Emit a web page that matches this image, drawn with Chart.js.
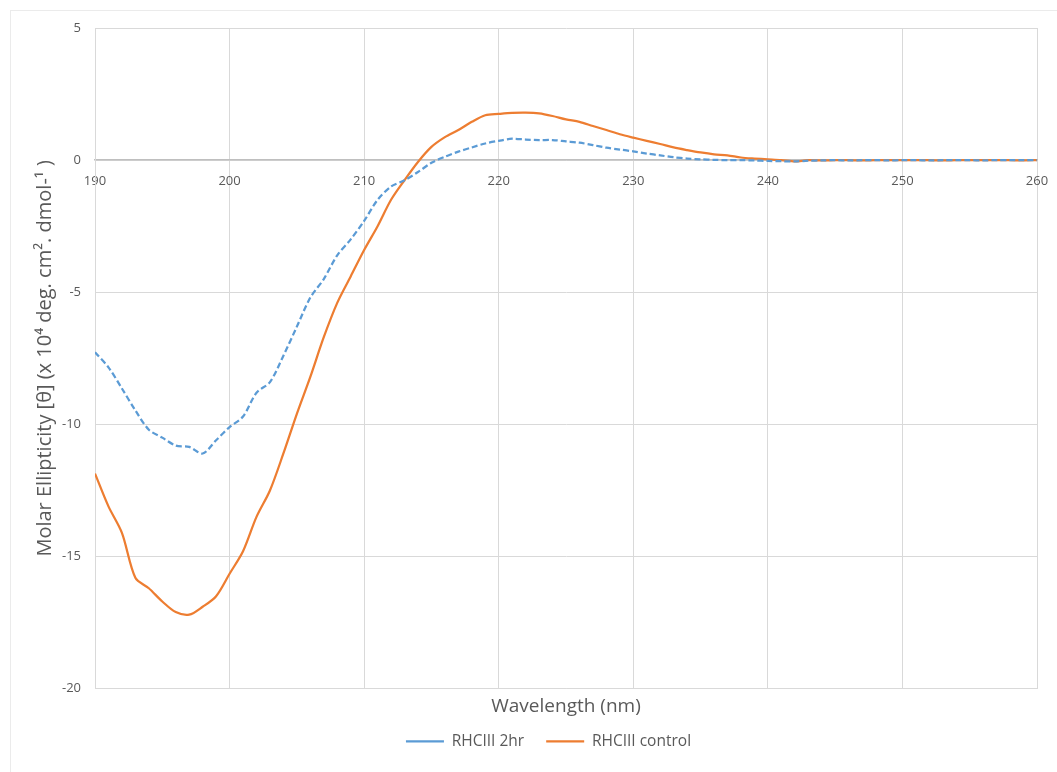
<!DOCTYPE html>
<html>
<head>
<meta charset="utf-8">
<script src="https://cdn.jsdelivr.net/npm/chart.js@4/dist/chart.umd.min.js"></script>
<style>
  html, body { margin: 0; padding: 0; background: #fff; }
  #wrap { position: relative; width: 1057px; height: 772px; overflow: hidden; }
  #frame { position: absolute; left: 10px; top: 10px; width: 1100px; height: 800px; border: 1px solid #ebebeb; box-sizing: border-box; }
  canvas { position: absolute; left: 0; top: 0; }
</style>
</head>
<body>
<div id="wrap">
  <div id="frame"></div>
  <canvas id="cd" width="1057" height="772"></canvas>
</div>
<script>
// wavelength in nm, 1 nm steps
const wavelengths = [
  190, 191, 192, 193, 194, 195, 196, 197, 198, 199,
  200, 201, 202, 203, 204, 205, 206, 207, 208, 209,
  210, 211, 212, 213, 214, 215, 216, 217, 218, 219,
  220, 221, 222, 223, 224, 225, 226, 227, 228, 229,
  230, 231, 232, 233, 234, 235, 236, 237, 238, 239,
  240, 241, 242, 243, 244, 245, 246, 247, 248, 249,
  250, 251, 252, 253, 254, 255, 256, 257, 258, 259, 260
];

// molar ellipticity (x 10^4 deg cm2 dmol-1)
const rhc2hr = [
  -7.27, -7.84, -8.64, -9.47, -10.2, -10.5, -10.8, -10.85, -11.1, -10.6,
  -10.1, -9.7, -8.8, -8.4, -7.4, -6.3, -5.2, -4.5, -3.6, -3.0,
  -2.3, -1.5, -1.0, -0.76, -0.45, -0.1, 0.13, 0.32, 0.48, 0.63,
  0.73, 0.81, 0.78, 0.76, 0.76, 0.71, 0.66, 0.57, 0.47, 0.40,
  0.33, 0.25, 0.18, 0.11, 0.06, 0.03, 0.01, 0.0, 0.0, -0.01,
  -0.03, -0.04, -0.05, -0.02, -0.01, 0.0, -0.01, 0.0, 0.0, -0.01,
  0.0, 0.0, -0.01, 0.0, 0.0, 0.0, -0.01, 0.0, 0.0, 0.0, 0.0
];

const rhcControl = [
  -11.86, -13.1, -14.1, -15.8, -16.2, -16.7, -17.1, -17.2, -16.9, -16.5,
  -15.65, -14.8, -13.5, -12.5, -11.1, -9.6, -8.2, -6.7, -5.4, -4.4,
  -3.4, -2.5, -1.5, -0.76, -0.07, 0.5, 0.87, 1.14, 1.45, 1.70,
  1.75, 1.79, 1.80, 1.77, 1.67, 1.54, 1.45, 1.29, 1.14, 0.98,
  0.85, 0.73, 0.61, 0.48, 0.38, 0.29, 0.22, 0.18, 0.10, 0.06,
  0.03, 0.0, -0.05, 0.0, -0.01, 0.0, 0.0, -0.01, 0.0, 0.0,
  0.0, 0.0, 0.0, -0.01, 0.0, 0.0, 0.0, 0.0, 0.0, -0.01, 0.0
];

const yTicks = [5, 0, -5, -10, -15, -20];
const xTicks = [190, 200, 210, 220, 230, 240, 250, 260];

const gridColor = "#d9d9d9";
const textColor = "#595959";
const fontFamily = "'Open Sans', 'Liberation Sans', sans-serif";

function toPoints(xs, ys) {
  return xs.map((x, i) => ({ x: x, y: ys[i] }));
}

new Chart(document.getElementById("cd"), {
  type: "line",
  data: {
    datasets: [
      {
        label: "RHCIII 2hr",
        data: toPoints(wavelengths, rhc2hr),
        borderColor: "#5B9BD5",
        backgroundColor: "#5B9BD5",
        borderWidth: 2.25,
        borderDash: [6, 3],
        pointRadius: 0,
        tension: 0.3,
        fill: false
      },
      {
        label: "RHCIII control",
        data: toPoints(wavelengths, rhcControl),
        borderColor: "#ED7D31",
        backgroundColor: "#ED7D31",
        borderWidth: 2.25,
        pointRadius: 0,
        tension: 0.3,
        fill: false
      }
    ]
  },
  options: {
    responsive: false,
    animation: false,
    // left padding keeps the legend centred where the reference has it
    layout: { padding: { left: 60, right: 20, top: 28, bottom: 13 } },
    scales: {
      x: {
        type: "linear",
        position: "bottom",
        min: 190, max: 260,
        afterBuildTicks: (s) => { s.ticks = xTicks.map(v => ({ value: v })); },
        ticks: { display: false },
        grid: { color: gridColor, drawTicks: false },
        border: { color: gridColor },
        title: {
          display: true,
          text: "Wavelength (nm)",
          color: textColor,
          font: { family: fontFamily, size: 19 },
          padding: { top: 6, bottom: -6 }
        }
      },
      x2: {
        type: "linear",
        position: { y: 0 },
        min: 190, max: 260,
        afterBuildTicks: (s) => { s.ticks = xTicks.map(v => ({ value: v })); },
        afterFit: (s) => { s.height = 0; s.paddingLeft = 0; s.paddingRight = 0; },
        ticks: {
          color: textColor,
          font: { family: fontFamily, size: 13 },
          padding: 13,
          maxRotation: 0
        },
        grid: { display: false, drawTicks: false },
        border: { display: true, color: "#bfbfbf", width: 1.5 }
      },
      y: {
        type: "linear",
        min: -20, max: 5,
        afterBuildTicks: (s) => { s.ticks = yTicks.map(v => ({ value: v })); },
        afterFit: (s) => { s.width = 35; },
        ticks: {
          color: textColor,
          font: { family: fontFamily, size: 13 },
          padding: 14
        },
        grid: { color: gridColor, drawTicks: false },
        border: { color: gridColor },
        title: {
          display: true,
          text: "Molar Ellipticity [θ] (x 10⁴ deg. cm². dmol-¹ )",
          color: textColor,
          font: { family: fontFamily, size: 20 },
          padding: { top: -27, bottom: 0 }
        }
      }
    },
    plugins: {
      legend: {
        position: "bottom",
        labels: {
          usePointStyle: true,
          pointStyle: "line",
          pointStyleWidth: 38,
          color: textColor,
          font: { family: fontFamily, size: 15.5 },
          padding: 22
        }
      },
      tooltip: { enabled: false }
    }
  }
});
</script>
</body>
</html>
